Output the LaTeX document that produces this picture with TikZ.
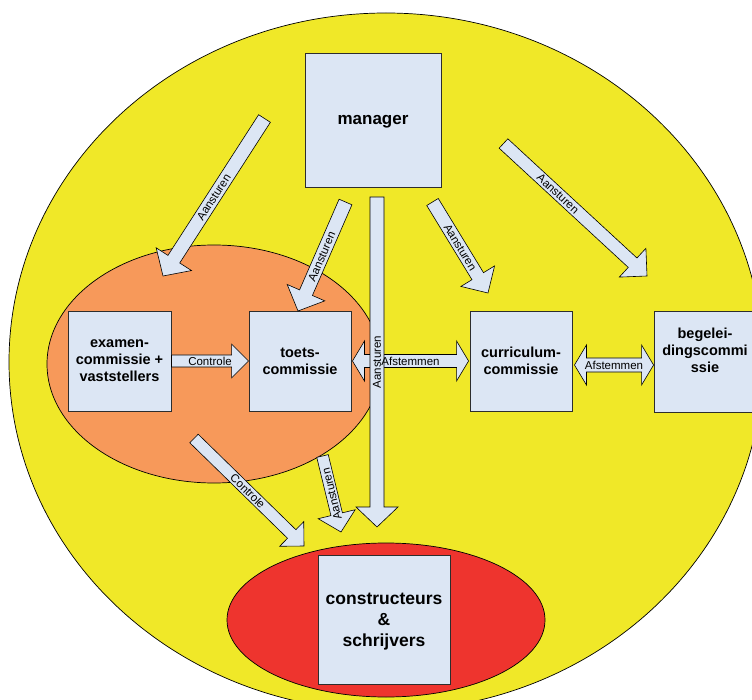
\documentclass[tikz,border=0pt]{standalone}
\usepackage{fontspec}
\setmainfont{Liberation Sans}
\usetikzlibrary{calc}
\definecolor{yel}{RGB}{240,232,40}
\definecolor{ora}{RGB}{247,153,90}
\definecolor{redd}{RGB}{238,52,46}
\definecolor{boxc}{RGB}{220,230,244}
\definecolor{edge}{RGB}{45,45,45}
\tikzset{
  zone/.style={draw=black, line width=0.7pt},
  box/.style={draw=edge, fill=boxc, line width=0.9pt, align=center, inner sep=0pt,
    font=\bfseries\fontsize{14.5}{17}\selectfont,
    preaction={fill=black!45, transform canvas={shift={(1.3pt,-1.3pt)}}}},
  arr/.style={draw=black, fill=boxc, line width=0.6pt, line join=miter},
  lab/.style={font=\fontsize{11.5}{13}\selectfont, inner sep=0pt}
}
% tail, tip, half shaft, half head, head length
\newcommand{\blockarrow}[5]{%
  \coordinate (ba-h) at ($(#2)!#5pt!(#1)$);
  \draw[arr] ($(#1)!#3pt!90:(#2)$) -- ($(ba-h)!#3pt!90:(#2)$) -- ($(ba-h)!#4pt!90:(#2)$)
    -- (#2) -- ($(ba-h)!#4pt!-90:(#2)$) -- ($(ba-h)!#3pt!-90:(#2)$) -- ($(#1)!#3pt!-90:(#2)$) -- cycle;
}
% end A, end B, half shaft, half head, head length
\newcommand{\dblarrow}[5]{%
  \coordinate (da-a) at ($(#1)!#5pt!(#2)$);
  \coordinate (da-b) at ($(#2)!#5pt!(#1)$);
  \draw[arr] (#1) -- ($(da-a)!#4pt!90:(#2)$) -- ($(da-a)!#3pt!90:(#2)$)
    -- ($(da-b)!#3pt!-90:(#1)$) -- ($(da-b)!#4pt!-90:(#1)$) -- (#2)
    -- ($(da-b)!#4pt!90:(#1)$) -- ($(da-b)!#3pt!90:(#1)$)
    -- ($(da-a)!#3pt!-90:(#2)$) -- ($(da-a)!#4pt!-90:(#2)$) -- cycle;
}
\begin{document}
\begin{tikzpicture}[x=1pt, y=-1pt]
\useasboundingbox (0,0) rectangle (752,700);
\clip (0,0) rectangle (752,700);
\fill[white] (0,0) rectangle (752,700);
% zones
\draw[zone, fill=yel] (386,362) ellipse [x radius=377pt, y radius=349pt];
\draw[zone, fill=ora] (214,364) ellipse [x radius=167pt, y radius=119pt];
\draw[zone, fill=redd] (386,620) ellipse [x radius=159pt, y radius=77pt];
% boxes
\node[box, minimum width=136pt, minimum height=134pt, text depth=0pt, font=\bfseries\fontsize{17}{20}\selectfont] (manager) at (373,120) {manager};
\node[box, minimum width=103pt, minimum height=100pt] (examen) at (119.5,361) {examen-\\commissie +\\vaststellers};
\node[box, minimum width=102pt, minimum height=100pt] (toets) at (300,361) {toets-\\commissie};
\node[box, minimum width=102pt, minimum height=100pt] (curr) at (521,361) {curriculum-\\commissie};
\node[box, minimum width=102pt, minimum height=101pt, text depth=22pt] (begel) at (705,361.5) {begelei-\\dingscommi\\ssie};
\node[box, minimum width=132pt, minimum height=129pt, text depth=-2pt, font=\bfseries\fontsize{17.5}{21}\selectfont] (constr) at (384,619.5) {constructeurs\\\&\\schrijvers};
% connector end points
\coordinate (t1) at (264.5,118.5); \coordinate (h1) at (163,276);
\coordinate (t2) at (345.5,202);   \coordinate (h2) at (298,311);
\coordinate (t3) at (377,197);     \coordinate (h3) at (377,527);
\coordinate (t4) at (432.5,202);   \coordinate (h4) at (488,293);
\coordinate (t5) at (503.5,143.5); \coordinate (h5) at (647,276);
\coordinate (t6) at (194,438.5);   \coordinate (h6) at (304,546);
\coordinate (t7) at (322.5,456);   \coordinate (h7) at (341,532);
\coordinate (a9) at ($(toets.east)+(1,0)$);
\coordinate (b9) at ($(curr.west)+(-1,0)$);
\coordinate (a10) at ($(curr.east)+(2,4)$);
\coordinate (b10) at ($(begel.west)+(0,3.5)$);
% arrows
\blockarrow{t1}{h1}{7}{21}{20}
\blockarrow{t2}{h2}{7}{20.5}{20}
\blockarrow{t4}{h4}{6.75}{19.7}{19.7}
\blockarrow{t5}{h5}{6.4}{19.6}{19.6}
\blockarrow{t6}{h6}{6}{17.2}{17.2}
\blockarrow{t7}{h7}{5.9}{19}{18.3}
\blockarrow{examen.east}{toets.west}{6}{17}{17}
\dblarrow{a9}{b9}{6.5}{20}{12}
\dblarrow{a10}{b10}{7}{20}{12}
\blockarrow{t3}{h3}{7}{21}{20}
% labels
\path (t1) -- (h1) node[lab, pos=0.5, sloped] {Aansturen};
\path (t2) -- (h2) node[lab, pos=0.5, sloped] {Aansturen};
\path (t3) -- (h3) node[lab, pos=0.5, rotate=90] {Aansturen};
\path (t4) -- (h4) node[lab, pos=0.5, sloped] {Aansturen};
\path (t5) -- (h5) node[lab, pos=0.38, sloped] {Aansturen};
\path (t6) -- (h6) node[lab, pos=0.49, sloped] {Controle};
\path (t7) -- (h7) node[lab, pos=0.5, rotate=103.7] {Aansturen};
\path (examen.east) -- (toets.west) node[lab, pos=0.5] {Controle};
\path (a9) -- (b9) node[lab, pos=0.5] {Afstemmen};
\path (a10) -- (b10) node[lab, pos=0.5] {Afstemmen};
\end{tikzpicture}
\end{document}
